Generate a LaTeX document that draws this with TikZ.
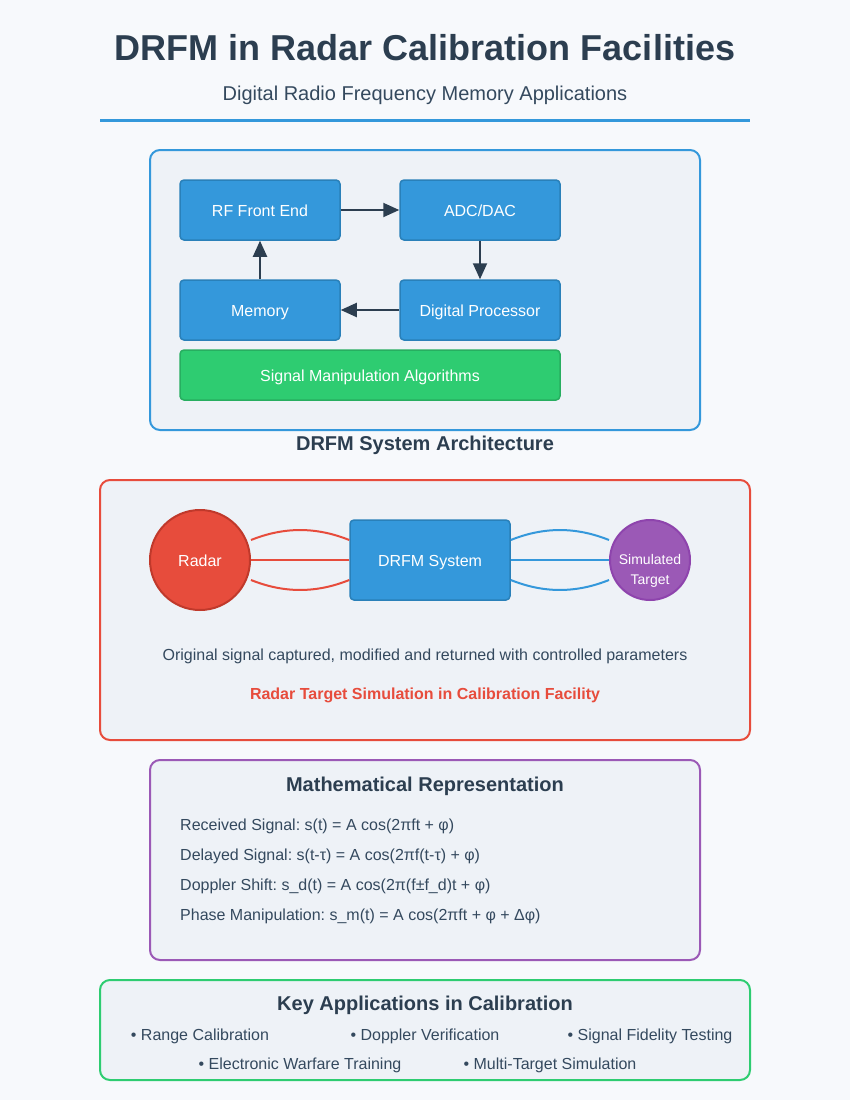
\documentclass[tikz,border=0pt]{standalone}
\usepackage{fontspec}
\setmainfont{Liberation Sans}
\usetikzlibrary{arrows.meta}
\definecolor{bgc}{HTML}{F7F9FC}
\definecolor{dark}{HTML}{2C3E50}
\definecolor{subc}{HTML}{34495E}
\definecolor{blu}{HTML}{3498DB}
\definecolor{bluD}{HTML}{2980B9}
\definecolor{grn}{HTML}{2ECC71}
\definecolor{grnD}{HTML}{27AE60}
\definecolor{rd}{HTML}{E74C3C}
\definecolor{rdD}{HTML}{C0392B}
\definecolor{pur}{HTML}{9B59B6}
\definecolor{purD}{HTML}{8E44AD}
\definecolor{panel}{HTML}{EEF2F7}
\newcommand{\fs}[1]{\fontsize{#1}{#1}\selectfont}
\frenchspacing
\begin{document}
\begin{tikzpicture}[x=1pt,y=-1pt,
  panelbox/.style={line width=2pt, fill=panel, rounded corners=10pt},
  blk/.style={draw=bluD, fill=blu, line width=1.5pt, rounded corners=4pt,
    minimum width=160pt, minimum height=60pt, inner sep=0pt,
    text height=13pt, text depth=0pt,
    text=white, font=\fs{16}},
  arr/.style={draw=dark, line width=2pt, -{Triangle[length=16pt,width=14pt]}},
  sigline/.style={line width=2pt},
  txt/.style={anchor=base, inner sep=0pt, text=dark},
  eq/.style={anchor=base west, inner sep=0pt, text=subc, font=\fs{16}},
  item/.style={anchor=base, inner sep=0pt, text=subc, font=\fs{16}}]
\useasboundingbox (0,0) rectangle (850,1100);
\fill[bgc] (0,0) rectangle (850,1100);

% Title
\node[txt, font=\bfseries\fs{36}] (title) at (425,60) {DRFM in Radar Calibration Facilities};
\node[txt, font=\fs{20}, text=subc] (subtitle) at (425,100) {Digital Radio Frequency Memory Applications};
\draw[blu, line width=3pt] (100,120) -- (750,120);

% Panel 1: architecture
\draw[panelbox, draw=blu] (150,150) rectangle (700,430);
\node[blk] (rf) at (260,210) {RF Front End};
\node[blk] (adc) at (480,210) {ADC/DAC};
\node[blk] (mem) at (260,310) {Memory};
\node[blk] (dp) at (480,310) {Digital Processor};
\node[blk, draw=grnD, fill=grn, minimum width=380pt, minimum height=50pt] (sig) at (370,375) {Signal Manipulation Algorithms};
\draw[arr] (rf) -- (adc);
\draw[arr] (adc) -- (dp);
\draw[arr] (dp) -- (mem);
\draw[arr] (mem) -- (rf);
\node[txt, font=\bfseries\fs{20}] (archlabel) at (425,450) {DRFM System Architecture};

% Panel 2: target simulation
\draw[panelbox, draw=rd] (100,480) rectangle (750,740);
\node[blk, minimum height=80pt, font=\fs{16}] (drfm) at (430,560) {DRFM System};
\node[circle, draw=rdD, fill=rd, line width=2pt, minimum size=100pt, inner sep=0pt,
      text height=13pt, text depth=0pt, text=white, font=\fs{16}] (radar) at (200,560) {Radar};
\node[circle, draw=purD, fill=pur, line width=2pt, minimum size=80pt, inner sep=0pt] (tgt) at (650,560) {};
\node[align=center, text=white, font=\fontsize{14}{20}\selectfont, inner sep=0pt] (tgtlabel) at ([yshift=-11pt]tgt.center) {Simulated\\Target};
\draw[sigline, rd] ([yshift=20pt]radar.east) .. controls +(33.3,-13.3) and +(-33.3,-13.3) .. ([yshift=20pt]drfm.west);
\draw[sigline, rd] (radar.east) -- (drfm.west);
\draw[sigline, rd] ([yshift=-20pt]radar.east) .. controls +(33.3,13.3) and +(-33.3,13.3) .. ([yshift=-20pt]drfm.west);
\draw[sigline, blu] ([yshift=20pt]drfm.east) .. controls +(33.3,-13.3) and +(-33.3,-13.3) .. ([yshift=20pt]tgt.west);
\draw[sigline, blu] (drfm.east) -- (tgt.west);
\draw[sigline, blu] ([yshift=-20pt]drfm.east) .. controls +(33.3,13.3) and +(-33.3,13.3) .. ([yshift=-20pt]tgt.west);
\node[txt, font=\fs{16}, text=subc] (desc) at (425,660) {Original signal captured, modified and returned with controlled parameters};
\node[txt, font=\bfseries\fs{16}, text=rd] (simlabel) at (425,699) {Radar Target Simulation in Calibration Facility};

% Panel 3: math
\draw[panelbox, draw=pur] (150,760) rectangle (700,960);
\node[txt, font=\bfseries\fs{20}] (mathtitle) at (425,791) {Mathematical Representation};
\node[eq] (eq1) at (180,830) {Received Signal: s(t) = A cos(2πft + φ)};
\node[eq] (eq2) at (180,860) {Delayed Signal: s(t-τ) = A cos(2πf(t-τ) + φ)};
\node[eq] (eq3) at (180,890) {Doppler Shift: s\_d(t) = A cos(2π(f±f\_d)t + φ)};
\node[eq] (eq4) at (180,920) {Phase Manipulation: s\_m(t) = A cos(2πft + φ + Δφ)};

% Panel 4: applications
\draw[panelbox, draw=grn] (100,980) rectangle (750,1080);
\node[txt, font=\bfseries\fs{20}] (apptitle) at (425,1010) {Key Applications in Calibration};
\node[item] (a1) at (200,1040) {• Range Calibration};
\node[item] (a2) at (425,1040) {• Doppler Verification};
\node[item] (a3) at (650,1040) {• Signal Fidelity Testing};
\node[item] (a4) at (300,1069) {• Electronic Warfare Training};
\node[item] (a5) at (550,1069) {• Multi-Target Simulation};
\end{tikzpicture}
\end{document}
